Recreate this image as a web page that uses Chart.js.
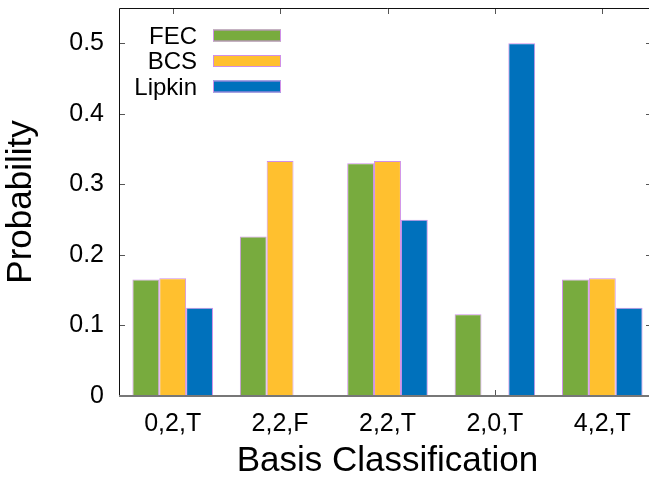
<!DOCTYPE html>
<html>
<head>
<meta charset="utf-8">
<script src="https://cdn.jsdelivr.net/npm/chart.js@4.4.1/dist/chart.umd.min.js"></script>
<style>
  html, body { margin: 0; padding: 0; background: #fff; overflow: hidden; }
  #wrap { width: 656px; height: 477px; }
</style>
</head>
<body>
<div id="wrap"><canvas id="myChart"></canvas></div>
<script>
// values
var categories = ["0,2,T", "2,2,F", "2,2,T", "2,0,T", "4,2,T"];
var fecValues = [0.165, 0.226, 0.33, 0.116, 0.165];
var bcsValues = [0.167, 0.333, 0.333, 0, 0.167];
var lipkinValues = [0.125, 0, 0.25, 0.5, 0.125];
var yTicks = [0, 0.1, 0.2, 0.3, 0.4, 0.5];
var seriesNames = ["FEC", "BCS", "Lipkin"];
var seriesColors = ["#78ab3e", "#ffc02f", "#0071bc"];
var xTitle = "Basis Classification";
var yTitle = "Probability";

var fontFamily = '"Liberation Sans", Arial, Helvetica, sans-serif';
var edgeColor = "#cf8fe8";

// gnuplot style frame, inner ticks, titles and legend
var gnuFrame = {
  id: "gnuFrame",
  beforeDatasetsDraw(chart) {
    const ctx = chart.ctx, a = chart.chartArea;
    const x = chart.scales.x, y = chart.scales.y;
    ctx.save();
    ctx.strokeStyle = "#555";
    ctx.lineWidth = 1;
    ctx.beginPath();
    yTicks.forEach(v => {
      const py = Math.round(y.getPixelForValue(v)) + 0.5;
      ctx.moveTo(a.left, py); ctx.lineTo(a.left + 6, py);
      ctx.moveTo(a.right, py); ctx.lineTo(a.right - 10, py);
    });
    categories.forEach((c, i) => {
      const px = Math.round(x.getPixelForValue(i)) + 0.5;
      ctx.moveTo(px, a.bottom); ctx.lineTo(px, a.bottom - 6);
      ctx.moveTo(px, a.top); ctx.lineTo(px, a.top + 6);
    });
    ctx.stroke();
    ctx.restore();
  },
  afterDatasetsDraw(chart) {
    const ctx = chart.ctx, a = chart.chartArea;
    ctx.save();
    // frame
    ctx.strokeStyle = "#111";
    ctx.lineWidth = 1;
    ctx.beginPath();
    ctx.moveTo(a.left + 0.5, a.bottom);
    ctx.lineTo(a.left + 0.5, a.top + 0.5);
    ctx.lineTo(a.right, a.top + 0.5);
    ctx.stroke();
    ctx.strokeStyle = "#777";
    ctx.lineWidth = 2;
    ctx.beginPath();
    ctx.moveTo(a.left, a.bottom);
    ctx.lineTo(a.right, a.bottom);
    ctx.stroke();

    // axis titles
    ctx.fillStyle = "#000";
    ctx.font = "35px " + fontFamily;
    ctx.textAlign = "center";
    ctx.textBaseline = "alphabetic";
    ctx.fillText(xTitle, (a.left + a.right) / 2, 471);
    ctx.save();
    ctx.translate(31, (a.top + a.bottom) / 2);
    ctx.rotate(-Math.PI / 2);
    ctx.fillText(yTitle, 0, 0);
    ctx.restore();

    // legend: label on the left, swatch on the right
    ctx.font = "24px " + fontFamily;
    ctx.textAlign = "right";
    ctx.textBaseline = "alphabetic";
    chart.data.datasets.forEach((ds, i) => {
      const cy = 35.5 + i * 25.5;
      ctx.fillStyle = "#000";
      ctx.fillText(ds.label, 197, cy + 8);
      ctx.fillStyle = ds.backgroundColor;
      ctx.fillRect(213, cy - 6, 68, 12);
      ctx.strokeStyle = edgeColor;
      ctx.lineWidth = 1;
      ctx.strokeRect(213.5, cy - 5.5, 67, 11);
    });
    ctx.restore();
  }
};

new Chart("myChart", {
  type: "bar",
  data: {
    labels: categories,
    datasets: [
      { label: seriesNames[0], data: fecValues, backgroundColor: seriesColors[0] },
      { label: seriesNames[1], data: bcsValues, backgroundColor: seriesColors[1] },
      { label: seriesNames[2], data: lipkinValues, backgroundColor: seriesColors[2] }
    ]
  },
  options: {
    responsive: true,
    maintainAspectRatio: false,
    devicePixelRatio: 1,
    animation: false,
    layout: { padding: { top: 8, right: 0, left: 0, bottom: 0 } },
    datasets: {
      bar: {
        categoryPercentage: 0.75,
        barPercentage: 1,
        borderColor: edgeColor,
        borderWidth: 1,
        borderSkipped: "start"
      }
    },
    plugins: {
      legend: { display: false },
      tooltip: { enabled: false }
    },
    scales: {
      x: {
        offset: true,
        grid: { display: false, drawTicks: false },
        border: { display: false },
        ticks: { color: "#000", font: { family: fontFamily, size: 25 }, padding: 13, maxRotation: 0 },
        afterFit(scale) {
          scale.height = 81;
          scale.paddingLeft = 0;
          scale.paddingRight = 0;
        }
      },
      y: {
        min: 0,
        max: 0.55,
        grid: { display: false, drawTicks: false },
        border: { display: false },
        afterBuildTicks(scale) { scale.ticks = yTicks.map(v => ({ value: v })); },
        ticks: {
          color: "#000",
          font: { family: fontFamily, size: 25 },
          padding: 15,
          callback: v => (v === 0 ? "0" : v.toFixed(1))
        },
        afterFit(scale) {
          scale.width = 119;
          scale.paddingTop = 0;
          scale.paddingBottom = 0;
        }
      }
    }
  },
  plugins: [gnuFrame]
});
</script>
</body>
</html>
